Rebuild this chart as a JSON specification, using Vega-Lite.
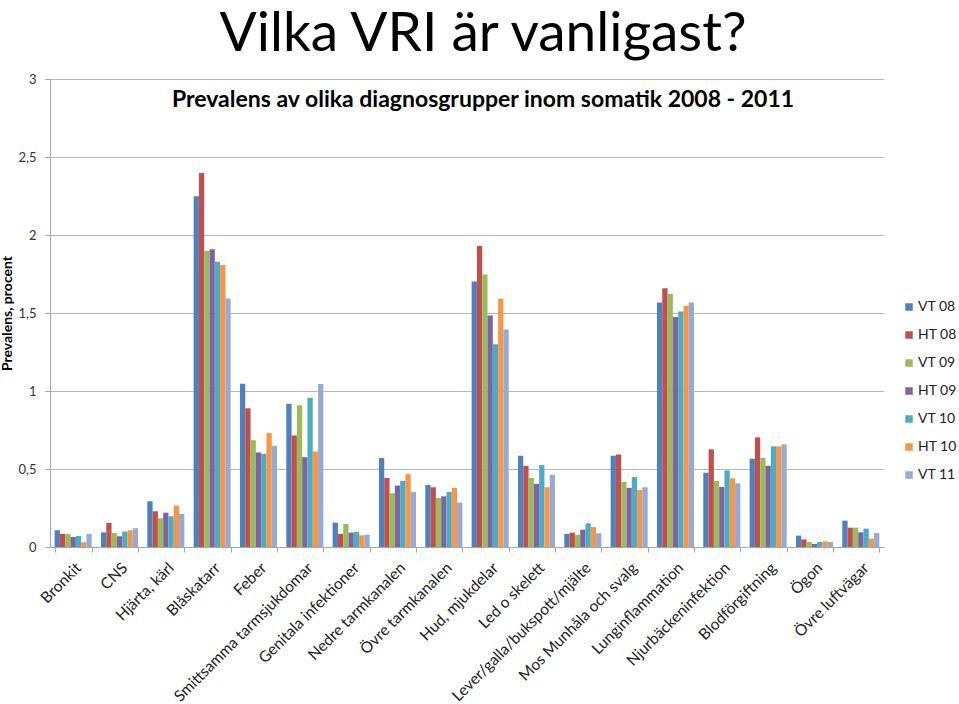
{
  "$schema": "https://vega.github.io/schema/vega-lite/v6.json",
  "autosize": "none",
  "width": 834,
  "height": 468,
  "padding": {"left": 50, "top": 79, "right": 75, "bottom": 157},
  "background": "white",
  "title": {
    "text": "Vilka VRI är vanligast?",
    "subtitle": "Prevalens av olika diagnosgrupper inom somatik 2008 - 2011",
    "anchor": "middle",
    "frame": "group",
    "dx": 16,
    "offset": -40,
    "font": "Lato",
    "fontSize": 55,
    "fontWeight": "normal",
    "color": "black",
    "subtitleFont": "Lato",
    "subtitleFontSize": 23,
    "subtitleFontWeight": "bold",
    "subtitleColor": "black",
    "subtitlePadding": 26
  },
  "data": {
    "values": [
      {"kategori": "Bronkit", "period": "VT 08", "varde": 0.107},
      {"kategori": "Bronkit", "period": "HT 08", "varde": 0.084},
      {"kategori": "Bronkit", "period": "VT 09", "varde": 0.084},
      {"kategori": "Bronkit", "period": "HT 09", "varde": 0.064},
      {"kategori": "Bronkit", "period": "VT 10", "varde": 0.071},
      {"kategori": "Bronkit", "period": "HT 10", "varde": 0.030},
      {"kategori": "Bronkit", "period": "VT 11", "varde": 0.084},
      {"kategori": "CNS", "period": "VT 08", "varde": 0.094},
      {"kategori": "CNS", "period": "HT 08", "varde": 0.154},
      {"kategori": "CNS", "period": "VT 09", "varde": 0.090},
      {"kategori": "CNS", "period": "HT 09", "varde": 0.069},
      {"kategori": "CNS", "period": "VT 10", "varde": 0.099},
      {"kategori": "CNS", "period": "HT 10", "varde": 0.107},
      {"kategori": "CNS", "period": "VT 11", "varde": 0.120},
      {"kategori": "Hjärta, kärl", "period": "VT 08", "varde": 0.293},
      {"kategori": "Hjärta, kärl", "period": "HT 08", "varde": 0.229},
      {"kategori": "Hjärta, kärl", "period": "VT 09", "varde": 0.184},
      {"kategori": "Hjärta, kärl", "period": "HT 09", "varde": 0.220},
      {"kategori": "Hjärta, kärl", "period": "VT 10", "varde": 0.197},
      {"kategori": "Hjärta, kärl", "period": "HT 10", "varde": 0.266},
      {"kategori": "Hjärta, kärl", "period": "VT 11", "varde": 0.212},
      {"kategori": "Blåskatarr", "period": "VT 08", "varde": 2.248},
      {"kategori": "Blåskatarr", "period": "HT 08", "varde": 2.398},
      {"kategori": "Blåskatarr", "period": "VT 09", "varde": 1.897},
      {"kategori": "Blåskatarr", "period": "HT 09", "varde": 1.908},
      {"kategori": "Blåskatarr", "period": "VT 10", "varde": 1.829},
      {"kategori": "Blåskatarr", "period": "HT 10", "varde": 1.807},
      {"kategori": "Blåskatarr", "period": "VT 11", "varde": 1.593},
      {"kategori": "Feber", "period": "VT 08", "varde": 1.047},
      {"kategori": "Feber", "period": "HT 08", "varde": 0.889},
      {"kategori": "Feber", "period": "VT 09", "varde": 0.685},
      {"kategori": "Feber", "period": "HT 09", "varde": 0.606},
      {"kategori": "Feber", "period": "VT 10", "varde": 0.597},
      {"kategori": "Feber", "period": "HT 10", "varde": 0.730},
      {"kategori": "Feber", "period": "VT 11", "varde": 0.649},
      {"kategori": "Smittsamma tarmsjukdomar", "period": "VT 08", "varde": 0.919},
      {"kategori": "Smittsamma tarmsjukdomar", "period": "HT 08", "varde": 0.715},
      {"kategori": "Smittsamma tarmsjukdomar", "period": "VT 09", "varde": 0.908},
      {"kategori": "Smittsamma tarmsjukdomar", "period": "HT 09", "varde": 0.576},
      {"kategori": "Smittsamma tarmsjukdomar", "period": "VT 10", "varde": 0.957},
      {"kategori": "Smittsamma tarmsjukdomar", "period": "HT 10", "varde": 0.612},
      {"kategori": "Smittsamma tarmsjukdomar", "period": "VT 11", "varde": 1.045},
      {"kategori": "Genitala infektioner", "period": "VT 08", "varde": 0.156},
      {"kategori": "Genitala infektioner", "period": "HT 08", "varde": 0.084},
      {"kategori": "Genitala infektioner", "period": "VT 09", "varde": 0.148},
      {"kategori": "Genitala infektioner", "period": "HT 09", "varde": 0.092},
      {"kategori": "Genitala infektioner", "period": "VT 10", "varde": 0.096},
      {"kategori": "Genitala infektioner", "period": "HT 10", "varde": 0.075},
      {"kategori": "Genitala infektioner", "period": "VT 11", "varde": 0.079},
      {"kategori": "Nedre tarmkanalen", "period": "VT 08", "varde": 0.570},
      {"kategori": "Nedre tarmkanalen", "period": "HT 08", "varde": 0.443},
      {"kategori": "Nedre tarmkanalen", "period": "VT 09", "varde": 0.345},
      {"kategori": "Nedre tarmkanalen", "period": "HT 09", "varde": 0.394},
      {"kategori": "Nedre tarmkanalen", "period": "VT 10", "varde": 0.424},
      {"kategori": "Nedre tarmkanalen", "period": "HT 10", "varde": 0.467},
      {"kategori": "Nedre tarmkanalen", "period": "VT 11", "varde": 0.353},
      {"kategori": "Övre tarmkanalen", "period": "VT 08", "varde": 0.398},
      {"kategori": "Övre tarmkanalen", "period": "HT 08", "varde": 0.383},
      {"kategori": "Övre tarmkanalen", "period": "VT 09", "varde": 0.315},
      {"kategori": "Övre tarmkanalen", "period": "HT 09", "varde": 0.325},
      {"kategori": "Övre tarmkanalen", "period": "VT 10", "varde": 0.353},
      {"kategori": "Övre tarmkanalen", "period": "HT 10", "varde": 0.379},
      {"kategori": "Övre tarmkanalen", "period": "VT 11", "varde": 0.285},
      {"kategori": "Hud, mjukdelar", "period": "VT 08", "varde": 1.702},
      {"kategori": "Hud, mjukdelar", "period": "HT 08", "varde": 1.929},
      {"kategori": "Hud, mjukdelar", "period": "VT 09", "varde": 1.747},
      {"kategori": "Hud, mjukdelar", "period": "HT 09", "varde": 1.484},
      {"kategori": "Hud, mjukdelar", "period": "VT 10", "varde": 1.300},
      {"kategori": "Hud, mjukdelar", "period": "HT 10", "varde": 1.591},
      {"kategori": "Hud, mjukdelar", "period": "VT 11", "varde": 1.394},
      {"kategori": "Led o skelett", "period": "VT 08", "varde": 0.585},
      {"kategori": "Led o skelett", "period": "HT 08", "varde": 0.520},
      {"kategori": "Led o skelett", "period": "VT 09", "varde": 0.443},
      {"kategori": "Led o skelett", "period": "HT 09", "varde": 0.405},
      {"kategori": "Led o skelett", "period": "VT 10", "varde": 0.525},
      {"kategori": "Led o skelett", "period": "HT 10", "varde": 0.383},
      {"kategori": "Led o skelett", "period": "VT 11", "varde": 0.463},
      {"kategori": "Lever/galla/bukspott/mjälte", "period": "VT 08", "varde": 0.084},
      {"kategori": "Lever/galla/bukspott/mjälte", "period": "HT 08", "varde": 0.092},
      {"kategori": "Lever/galla/bukspott/mjälte", "period": "VT 09", "varde": 0.079},
      {"kategori": "Lever/galla/bukspott/mjälte", "period": "HT 09", "varde": 0.111},
      {"kategori": "Lever/galla/bukspott/mjälte", "period": "VT 10", "varde": 0.152},
      {"kategori": "Lever/galla/bukspott/mjälte", "period": "HT 10", "varde": 0.128},
      {"kategori": "Lever/galla/bukspott/mjälte", "period": "VT 11", "varde": 0.088},
      {"kategori": "Mos Munhåla och svalg", "period": "VT 08", "varde": 0.585},
      {"kategori": "Mos Munhåla och svalg", "period": "HT 08", "varde": 0.593},
      {"kategori": "Mos Munhåla och svalg", "period": "VT 09", "varde": 0.418},
      {"kategori": "Mos Munhåla och svalg", "period": "HT 09", "varde": 0.379},
      {"kategori": "Mos Munhåla och svalg", "period": "VT 10", "varde": 0.448},
      {"kategori": "Mos Munhåla och svalg", "period": "HT 10", "varde": 0.366},
      {"kategori": "Mos Munhåla och svalg", "period": "VT 11", "varde": 0.383},
      {"kategori": "Lunginflammation", "period": "VT 08", "varde": 1.568},
      {"kategori": "Lunginflammation", "period": "HT 08", "varde": 1.658},
      {"kategori": "Lunginflammation", "period": "VT 09", "varde": 1.622},
      {"kategori": "Lunginflammation", "period": "HT 09", "varde": 1.474},
      {"kategori": "Lunginflammation", "period": "VT 10", "varde": 1.509},
      {"kategori": "Lunginflammation", "period": "HT 10", "varde": 1.547},
      {"kategori": "Lunginflammation", "period": "VT 11", "varde": 1.568},
      {"kategori": "Njurbäckeninfektion", "period": "VT 08", "varde": 0.476},
      {"kategori": "Njurbäckeninfektion", "period": "HT 08", "varde": 0.626},
      {"kategori": "Njurbäckeninfektion", "period": "VT 09", "varde": 0.423},
      {"kategori": "Njurbäckeninfektion", "period": "HT 09", "varde": 0.385},
      {"kategori": "Njurbäckeninfektion", "period": "VT 10", "varde": 0.491},
      {"kategori": "Njurbäckeninfektion", "period": "HT 10", "varde": 0.440},
      {"kategori": "Njurbäckeninfektion", "period": "VT 11", "varde": 0.408},
      {"kategori": "Blodförgiftning", "period": "VT 08", "varde": 0.566},
      {"kategori": "Blodförgiftning", "period": "HT 08", "varde": 0.703},
      {"kategori": "Blodförgiftning", "period": "VT 09", "varde": 0.571},
      {"kategori": "Blodförgiftning", "period": "HT 09", "varde": 0.521},
      {"kategori": "Blodförgiftning", "period": "VT 10", "varde": 0.645},
      {"kategori": "Blodförgiftning", "period": "HT 10", "varde": 0.645},
      {"kategori": "Blodförgiftning", "period": "VT 11", "varde": 0.658},
      {"kategori": "Ögon", "period": "VT 08", "varde": 0.073},
      {"kategori": "Ögon", "period": "HT 08", "varde": 0.049},
      {"kategori": "Ögon", "period": "VT 09", "varde": 0.032},
      {"kategori": "Ögon", "period": "HT 09", "varde": 0.019},
      {"kategori": "Ögon", "period": "VT 10", "varde": 0.032},
      {"kategori": "Ögon", "period": "HT 10", "varde": 0.036},
      {"kategori": "Ögon", "period": "VT 11", "varde": 0.032},
      {"kategori": "Övre luftvägar", "period": "VT 08", "varde": 0.169},
      {"kategori": "Övre luftvägar", "period": "HT 08", "varde": 0.124},
      {"kategori": "Övre luftvägar", "period": "VT 09", "varde": 0.124},
      {"kategori": "Övre luftvägar", "period": "HT 09", "varde": 0.094},
      {"kategori": "Övre luftvägar", "period": "VT 10", "varde": 0.118},
      {"kategori": "Övre luftvägar", "period": "HT 10", "varde": 0.053},
      {"kategori": "Övre luftvägar", "period": "VT 11", "varde": 0.090}
    ]
  },
  "mark": {"type": "bar"},
  "encoding": {
    "x": {
      "field": "kategori",
      "type": "nominal",
      "sort": null,
      "scale": {"paddingInner": 0.2, "paddingOuter": 0.1},
      "axis": {
        "title": null,
        "labelAngle": -45,
        "labelFont": "Lato",
        "labelFontSize": 15.5,
        "labelColor": "#222222",
        "labelPadding": 8,
        "labelLimit": 300,
        "tickBand": "extent",
        "tickSize": 5,
        "tickColor": "#a6a6a6",
        "domainColor": "#a6a6a6",
        "grid": false,
        "labelOverlap": false
      }
    },
    "xOffset": {"field": "period", "type": "nominal", "sort": null, "scale": {"paddingInner": 0, "paddingOuter": 0}},
    "y": {
      "field": "varde",
      "type": "quantitative",
      "scale": {"domain": [0, 3], "nice": false},
      "axis": {
        "title": "Prevalens, procent",
        "titleFont": "Lato",
        "titleFontSize": 14,
        "titleFontWeight": "bold",
        "titleColor": "black",
        "titlePadding": 3,
        "values": [0, 0.5, 1, 1.5, 2, 2.5, 3],
        "labelExpr": "replace(format(datum.value, '~g'), '.', ',')",
        "labelFont": "Lato",
        "labelFontSize": 13,
        "labelColor": "#333333",
        "labelPadding": 9,
        "tickSize": 5,
        "tickColor": "#a6a6a6",
        "domainColor": "#a6a6a6",
        "grid": true,
        "gridColor": "#b8b8b8",
        "gridWidth": 1.2
      }
    },
    "color": {
      "field": "period",
      "type": "nominal",
      "sort": null,
      "scale": {
        "domain": ["VT 08", "HT 08", "VT 09", "HT 09", "VT 10", "HT 10", "VT 11"],
        "range": ["#4F81BD", "#C0504D", "#9BBB59", "#8064A2", "#4BACC6", "#F79646", "#96AAD4"]
      },
      "legend": {
        "title": null,
        "orient": "none",
        "legendX": 852,
        "legendY": 221,
        "symbolType": "square",
        "symbolSize": 56,
        "symbolStrokeWidth": 0,
        "labelFont": "Lato",
        "labelFontSize": 14,
        "labelColor": "#222222",
        "labelOffset": 2,
        "rowPadding": 14
      }
    }
  },
  "config": {
    "view": {"stroke": null}
  }
}
